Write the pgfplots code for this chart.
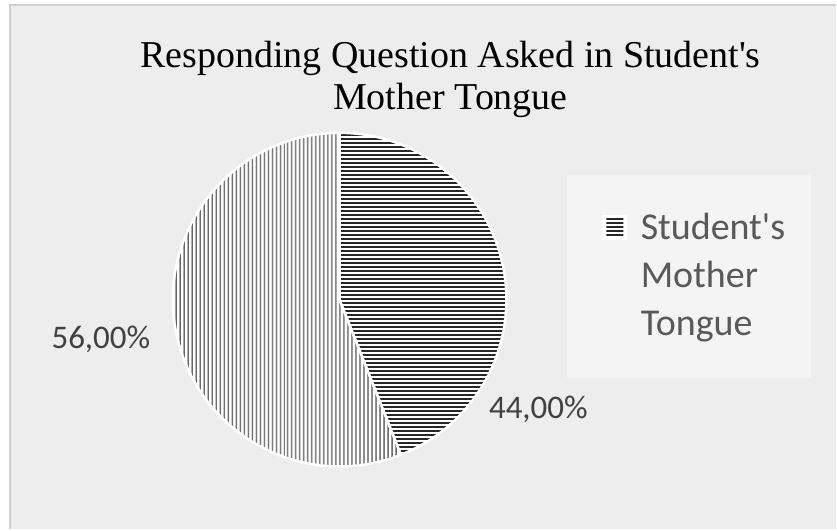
\documentclass[border=0pt]{standalone}
\usepackage{fontspec}
\setmainfont{Carlito}
\newfontfamily\titlefont{Liberation Serif}
\usepackage{pgfplots}
\usepackage{pgfplotstable}
\pgfplotsset{compat=1.18}
\usetikzlibrary{patterns.meta}

\definecolor{bg}{HTML}{EDEDED}
\definecolor{legbg}{HTML}{F4F4F4}
\definecolor{frame}{HTML}{D0D0D0}
\definecolor{labtext}{HTML}{404040}
\definecolor{legtext}{HTML}{595959}

\pgfplotstableread[col sep=comma]{
label,value
Student's Mother Tongue,44
Other,56
}\piedata

\pgfplotstablegetelem{0}{value}\of\piedata
\pgfmathsetmacro{\va}{\pgfplotsretval}
\pgfplotstablegetelem{1}{value}\of\piedata
\pgfmathsetmacro{\vb}{\pgfplotsretval}
% slice 1 runs clockwise from 12 o'clock
\pgfmathsetmacro{\aend}{90-3.6*\va}

\begin{document}
\begin{tikzpicture}
\begin{axis}[
    width=837pt, height=530pt,
    scale only axis,
    xmin=0, xmax=837, ymin=0, ymax=530,
    hide axis, clip=false,
]
% chart area
\fill[white] (axis cs:0,0) rectangle (axis cs:837,530);
\fill[bg] (axis cs:10,0) rectangle (axis cs:837,525);
\draw[frame, line width=2pt] (axis cs:10,0) -- (axis cs:10,525) -- (axis cs:837,525);

% title
\node[font=\titlefont\fontsize{38}{46}\selectfont, anchor=base]
    at (axis cs:451,462) {Responding Question Asked in Student\textquotesingle s};
\node[font=\titlefont\fontsize{38}{46}\selectfont, anchor=base]
    at (axis cs:451,420) {Mother Tongue};

% pie: slice 2 (vertical lines)
\fill[white] (axis cs:340,230) -- ++(\aend:167pt) arc[start angle=\aend, end angle=\aend-3.6*\vb, radius=167pt] -- cycle;
\fill[pattern={Lines[angle=90,distance=4pt,line width=1.5pt]}, pattern color=black!62]
    (axis cs:340,230) -- ++(\aend:167pt) arc[start angle=\aend, end angle=\aend-3.6*\vb, radius=167pt] -- cycle;
\draw[white, line width=2.5pt]
    (axis cs:340,230) -- ++(\aend:167pt) arc[start angle=\aend, end angle=\aend-3.6*\vb, radius=167pt] -- cycle;
% slice 1 (horizontal lines)
\fill[white] (axis cs:340,230) -- ++(90:167pt) arc[start angle=90, end angle=\aend, radius=167pt] -- cycle;
\fill[pattern={Lines[angle=0,distance=4pt,line width=1.8pt]}, pattern color=black!85]
    (axis cs:340,230) -- ++(90:167pt) arc[start angle=90, end angle=\aend, radius=167pt] -- cycle;
\draw[white, line width=2.5pt]
    (axis cs:340,230) -- ++(90:167pt) arc[start angle=90, end angle=\aend, radius=167pt] -- cycle;

% data labels
\node[font=\fontsize{33}{40}\selectfont, text=labtext] at (axis cs:101,190) {56,00\%};
\node[font=\fontsize{33}{40}\selectfont, text=labtext] at (axis cs:539,120) {44,00\%};

% legend
\fill[legbg] (axis cs:568,152) rectangle (axis cs:812,355);
\fill[white] (axis cs:603,290) rectangle (axis cs:628,315);
\fill[pattern={Lines[angle=0,distance=4pt,line width=1.8pt]}, pattern color=black!85]
    (axis cs:607,294) rectangle (axis cs:624,311);
\node[font=\fontsize{38}{48}\selectfont, text=legtext, anchor=base west] at (axis cs:638,290) {Student\textquotesingle s};
\node[font=\fontsize{38}{48}\selectfont, text=legtext, anchor=base west] at (axis cs:638,242) {Mother};
\node[font=\fontsize{38}{48}\selectfont, text=legtext, anchor=base west] at (axis cs:638,194) {Tongue};
\end{axis}
\end{tikzpicture}
\end{document}
